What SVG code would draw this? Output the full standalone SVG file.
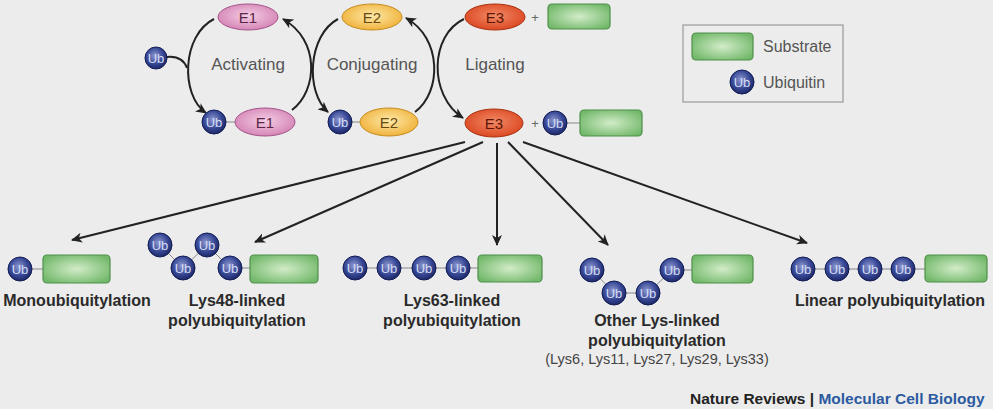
<svg xmlns="http://www.w3.org/2000/svg" width="993" height="409" viewBox="0 0 993 409">
<defs>
<radialGradient id="gUb" cx="45%" cy="40%" r="60%"><stop offset="0" stop-color="#8e9ad0"/><stop offset="0.6" stop-color="#3a4a98"/><stop offset="1" stop-color="#1c2766"/></radialGradient>
<radialGradient id="gSub" cx="50%" cy="50%" r="60%"><stop offset="0" stop-color="#d2ecc8"/><stop offset="1" stop-color="#72b86a"/></radialGradient>
<radialGradient id="gE1" cx="50%" cy="45%" r="60%"><stop offset="0" stop-color="#f4cde3"/><stop offset="1" stop-color="#d27fb2"/></radialGradient>
<radialGradient id="gE2" cx="50%" cy="45%" r="60%"><stop offset="0" stop-color="#fde9a8"/><stop offset="1" stop-color="#efae33"/></radialGradient>
<radialGradient id="gE3" cx="50%" cy="45%" r="60%"><stop offset="0" stop-color="#f28a66"/><stop offset="1" stop-color="#d9431d"/></radialGradient>
<marker id="ah" markerUnits="userSpaceOnUse" markerWidth="12" markerHeight="10" refX="10" refY="5" orient="auto"><path d="M0,0 L11,5 L0,10 L3,5 z" fill="#222"/></marker>
<style>
.ub{fill:url(#gUb);stroke:#121c55;stroke-width:1}
.ubt{font-family:"Liberation Sans",Arial,sans-serif;font-size:13px;fill:#d4dcf2;text-anchor:middle;dominant-baseline:central}
.sub{fill:url(#gSub);stroke:#4f8f4a;stroke-width:1.2}
.lk{stroke:#888;stroke-width:1;fill:none}
.e1{fill:url(#gE1);stroke:#a4548a;stroke-width:1}
.e2{fill:url(#gE2);stroke:#c48d22;stroke-width:1}
.e3{fill:url(#gE3);stroke:#a93312;stroke-width:1}
.et{font-family:"Liberation Sans",Arial,sans-serif;font-size:15px;text-anchor:middle;dominant-baseline:central}
.step{font-family:"Liberation Sans",Arial,sans-serif;font-size:17px;fill:#555;text-anchor:middle}
.lbl{font-family:"Liberation Sans",Arial,sans-serif;font-size:16px;font-weight:bold;fill:#2a2a2a;text-anchor:middle}
.sm{font-family:"Liberation Sans",Arial,sans-serif;font-size:14.5px;fill:#444;text-anchor:middle}
.leg{font-family:"Liberation Sans",Arial,sans-serif;font-size:16px;fill:#555}
.plus{font-family:"Liberation Sans",Arial,sans-serif;font-size:13px;fill:#666;text-anchor:middle;dominant-baseline:central}
.ar{stroke:#222;stroke-width:2;fill:none}
</style>
</defs>
<rect width="993" height="409" fill="#ececec"/>

<g id="connectors">
<path class="ar" d="M214,19 C182,35 180,95 206,113" marker-end="url(#ah)"/>
<path class="ar" d="M167,57 C177,56 184,60 187,68"/>
<path class="ar" d="M292,110 C318,90 320,40 283,19" marker-end="url(#ah)"/>
<path class="ar" d="M338,19 C308,35 305,92 328,112" marker-end="url(#ah)"/>
<path class="ar" d="M415,112 C442,92 442,38 406,18" marker-end="url(#ah)"/>
<path class="ar" d="M464,19 C430,35 428,95 463,118" marker-end="url(#ah)"/>
<path class="ar" d="M465,142 L72,240" marker-end="url(#ah)"/>
<path class="ar" d="M483,142 L255,242" marker-end="url(#ah)"/>
<path class="ar" d="M497,143 L497,245" marker-end="url(#ah)"/>
<path class="ar" d="M508,142 L608,245" marker-end="url(#ah)"/>
<path class="ar" d="M523,142 L807,243" marker-end="url(#ah)"/>
</g>

<g id="e1-top"><ellipse class="e1" cx="248" cy="17" rx="30" ry="13"/><text class="et" x="248" y="17" fill="#5a2747">E1</text></g>
<g id="e2-top"><ellipse class="e2" cx="372" cy="17" rx="30" ry="13"/><text class="et" x="372" y="17" fill="#6a4a12">E2</text></g>
<g id="e3-top"><ellipse class="e3" cx="495" cy="17" rx="30" ry="13"/><text class="et" x="495" y="17" fill="#5e1606">E3</text><text class="plus" x="535" y="17">+</text><rect class="sub" x="548" y="4" width="62" height="25" rx="4"/></g>
<g id="ub-free"><circle class="ub" cx="156" cy="58" r="11"/><text class="ubt" x="156" y="58">Ub</text></g>
<g id="labels-steps">
<text class="step" x="248" y="70">Activating</text>
<text class="step" x="372" y="70">Conjugating</text>
<text class="step" x="495" y="70">Ligating</text>
</g>
<g id="ub-e1"><line class="lk" x1="225" y1="122" x2="235" y2="122"/><circle class="ub" cx="214" cy="122" r="12"/><text class="ubt" x="214" y="122">Ub</text><ellipse class="e1" cx="265" cy="122" rx="30" ry="14"/><text class="et" x="265" y="122" fill="#5a2747">E1</text></g>
<g id="ub-e2"><line class="lk" x1="351" y1="122" x2="360" y2="122"/><circle class="ub" cx="340" cy="122" r="12"/><text class="ubt" x="340" y="122">Ub</text><ellipse class="e2" cx="389" cy="122" rx="29" ry="14"/><text class="et" x="389" y="122" fill="#6a4a12">E2</text></g>
<g id="e3-ub-sub"><ellipse class="e3" cx="494" cy="123" rx="29" ry="14"/><text class="et" x="494" y="123" fill="#5e1606">E3</text><text class="plus" x="535" y="123">+</text><line class="lk" x1="566" y1="123" x2="580" y2="123"/><circle class="ub" cx="555" cy="123" r="12"/><text class="ubt" x="555" y="123">Ub</text><rect class="sub" x="580" y="110" width="62" height="26" rx="4"/></g>

<g id="legend">
<rect x="683" y="25" width="160" height="77" fill="none" stroke="#9a9a9a" stroke-width="1.2"/>
<rect class="sub" x="692" y="33" width="61" height="27" rx="4"/>
<text class="leg" x="763" y="52">Substrate</text>
<circle class="ub" cx="742" cy="82" r="12"/><text class="ubt" x="742" y="82">Ub</text>
<text class="leg" x="763" y="88">Ubiquitin</text>
</g>

<g id="mono">
<line class="lk" x1="32" y1="269" x2="43" y2="269"/>
<circle class="ub" cx="20" cy="269" r="12"/><text class="ubt" x="20" y="269">Ub</text>
<rect class="sub" x="43" y="255" width="67" height="28" rx="4"/>
<text class="lbl" x="77" y="306">Monoubiquitylation</text>
</g>

<g id="lys48">
<polyline class="lk" points="160,245 183,268 207,245 230,268 250,268"/>
<circle class="ub" cx="160" cy="245" r="12"/><text class="ubt" x="160" y="245">Ub</text>
<circle class="ub" cx="207" cy="245" r="12"/><text class="ubt" x="207" y="245">Ub</text>
<circle class="ub" cx="183" cy="268" r="12"/><text class="ubt" x="183" y="268">Ub</text>
<circle class="ub" cx="230" cy="268" r="12"/><text class="ubt" x="230" y="268">Ub</text>
<rect class="sub" x="250" y="255" width="68" height="28" rx="4"/>
<text class="lbl" x="237" y="306">Lys48-linked</text>
<text class="lbl" x="237" y="326">polyubiquitylation</text>
</g>

<g id="lys63">
<line class="lk" x1="355" y1="268" x2="478" y2="268"/>
<circle class="ub" cx="355" cy="268" r="12"/><text class="ubt" x="355" y="268">Ub</text>
<circle class="ub" cx="389" cy="268" r="12"/><text class="ubt" x="389" y="268">Ub</text>
<circle class="ub" cx="424" cy="268" r="12"/><text class="ubt" x="424" y="268">Ub</text>
<circle class="ub" cx="458" cy="268" r="12"/><text class="ubt" x="458" y="268">Ub</text>
<rect class="sub" x="478" y="255" width="64" height="27" rx="4"/>
<text class="lbl" x="452" y="306">Lys63-linked</text>
<text class="lbl" x="452" y="326">polyubiquitylation</text>
</g>

<g id="other-lys">
<polyline class="lk" points="592,270 614,293 648,293 672,270 692,270"/>
<circle class="ub" cx="592" cy="270" r="12"/><text class="ubt" x="592" y="270">Ub</text>
<circle class="ub" cx="614" cy="293" r="12"/><text class="ubt" x="614" y="293">Ub</text>
<circle class="ub" cx="648" cy="293" r="12"/><text class="ubt" x="648" y="293">Ub</text>
<circle class="ub" cx="672" cy="270" r="12"/><text class="ubt" x="672" y="270">Ub</text>
<rect class="sub" x="692" y="255" width="61" height="28" rx="4"/>
<text class="lbl" x="657" y="326">Other Lys-linked</text>
<text class="lbl" x="657" y="346">polyubiquitylation</text>
<text class="sm" x="657" y="364">(Lys6, Lys11, Lys27, Lys29, Lys33)</text>
</g>

<g id="linear">
<line class="lk" x1="803" y1="269" x2="925" y2="269"/>
<circle class="ub" cx="803" cy="269" r="12"/><text class="ubt" x="803" y="269">Ub</text>
<circle class="ub" cx="837" cy="269" r="12"/><text class="ubt" x="837" y="269">Ub</text>
<circle class="ub" cx="870" cy="269" r="12"/><text class="ubt" x="870" y="269">Ub</text>
<circle class="ub" cx="903" cy="269" r="12"/><text class="ubt" x="903" y="269">Ub</text>
<rect class="sub" x="925" y="255" width="62" height="27" rx="4"/>
<text class="lbl" x="890" y="306">Linear polyubiquitylation</text>
</g>

<g id="footer">
<text x="690" y="404" font-family="Liberation Sans, Arial, sans-serif" font-size="15.5" font-weight="bold" fill="#222">Nature Reviews | <tspan fill="#2c5aa0">Molecular Cell Biology</tspan></text>
</g>
</svg>
